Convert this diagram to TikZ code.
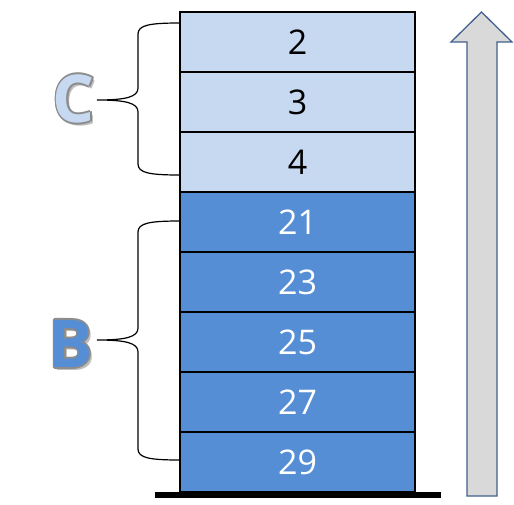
\documentclass[tikz,border=0pt]{standalone}
\usepackage{fontspec}
\setmainfont{Open Sans}
\usepackage{tikz}
\usepackage{xcolor}
\usetikzlibrary{positioning, calc}
\definecolor{lightcell}{HTML}{C6D9F1}
\definecolor{darkcell}{HTML}{558ED5}
\definecolor{arrowfill}{HTML}{D9D9D9}
\definecolor{arrowline}{HTML}{41618F}
\definecolor{rimgray}{HTML}{8C8C8C}
\tikzstyle{cell} = [rectangle, minimum width=235pt, minimum height=60pt, outer sep=0pt, inner sep=0pt, text centered, draw=black, line width=1.3pt, font=\fontsize{34}{38}\selectfont]
\tikzstyle{upper} = [cell, fill=lightcell, text=black]
\tikzstyle{lower} = [cell, fill=darkcell, text=white]
\tikzstyle{brace} = [line width=1.2pt, black]
\tikzstyle{bigletter} = [font=\fontsize{66}{70}\selectfont\bfseries, inner sep=0pt]
\tikzstyle{uparrow} = [fill=arrowfill, draw=arrowline, line width=1.3pt, line join=miter]
\newcommand{\rimletter}[4]{% name, position, fill colour, letter
  \node[bigletter, text=black, opacity=0.25] at ($#2+(2.5,2.5)$) {#4};
  \foreach \ang in {0,45,...,315}
    \node[bigletter, text=rimgray] at ($#2+(\ang:1.6)$) {#4};
  \node (#1) [bigletter, text=#3] at #2 {#4};
}

\begin{document}
\begin{tikzpicture}[x=1pt, y=-1pt]
    \useasboundingbox (0,0) rectangle (514,504);
    \node (c2) [upper] at (297.5,42) {2};
    \node (c3) [upper, below=0pt of c2] {3};
    \node (c4) [upper, below=0pt of c3] {4};
    \node (b21) [lower, below=0pt of c4] {21};
    \node (b23) [lower, below=0pt of b21] {23};
    \node (b25) [lower, below=0pt of b23] {25};
    \node (b27) [lower, below=0pt of b25] {27};
    \node (b29) [lower, below=0pt of b27] {29};
    \draw [line width=6pt] (155,495) -- (441,495);
    % braces
    \draw [brace] (180,23) .. controls (150,23) and (138,25) .. (138,34) -- (138,88)
        .. controls (138,97) and (126,100) .. (97,100)
        .. controls (126,100) and (138,103) .. (138,112) -- (138,164)
        .. controls (138,173) and (150,175) .. (180,175);
    \draw [brace] (180,221) .. controls (150,221) and (138,223) .. (138,232) -- (138,328)
        .. controls (138,337) and (126,340) .. (97,340)
        .. controls (126,340) and (138,343) .. (138,352) -- (138,449)
        .. controls (138,458) and (150,460) .. (180,460);
    \rimletter{lc}{(74,99)}{lightcell}{C}
    \rimletter{lb}{(71,344)}{darkcell}{B}
    % arrow
    \draw [uparrow] (481.5,12) -- (512,42) -- (497,42) -- (497,496) -- (467,496) -- (467,42) -- (451,42) -- cycle;

\end{tikzpicture}
\end{document}
